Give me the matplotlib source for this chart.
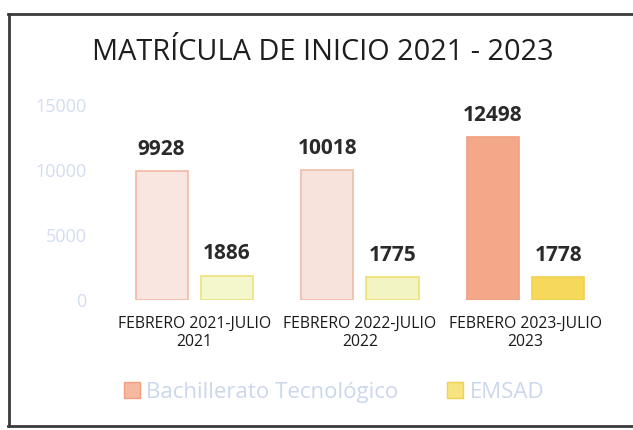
import matplotlib
matplotlib.use("Agg")
import matplotlib.pyplot as plt
from matplotlib.lines import Line2D
from matplotlib.patches import Patch
import numpy as np

categories = ["FEBRERO 2021-JULIO\n2021", "FEBRERO 2022-JULIO\n2022", "FEBRERO 2023-JULIO\n2023"]
bachillerato = [9928, 10018, 12498]
emsad = [1886, 1775, 1778]
series_names = ["Bachillerato Tecnológico", "EMSAD"]
yticks = [0, 5000, 10000, 15000]

bach_face = ["#f9e6e0", "#f8e3dc", "#f3a88a"]
bach_edge = ["#f2b9a4", "#f0bca8", "#f0a080"]
emsad_face = ["#f4f6cc", "#f3f4c4", "#f6d85a"]
emsad_edge = ["#efe27a", "#f0e070", "#f2d050"]

plt.rcParams['font.family'] = ['Open Sans', 'DejaVu Sans']

fig = plt.figure(figsize=(6.33, 4.30), dpi=100)
ax = fig.add_axes([0.176, 0.302, 0.785, 0.454])

x = np.arange(len(categories))
w = 0.315
off = 0.197
b1 = ax.bar(x - off, bachillerato, w, color=bach_face, edgecolor=bach_edge, linewidth=1.2)
b2 = ax.bar(x + off, emsad, w, color=emsad_face, edgecolor=emsad_edge, linewidth=1.2)

for rect, v in list(zip(b1, bachillerato)) + list(zip(b2, emsad)):
    ax.annotate(str(v), (rect.get_x() + rect.get_width() / 2, v),
                xytext=(0, 8), textcoords="offset points",
                ha="center", va="bottom", fontsize=15, fontweight="bold", color="#2a2a2a")

ax.set_xlim(-0.5, 2.5)
ax.set_ylim(0, 15000)
ax.set_yticks(yticks)
ax.set_yticklabels([str(t) for t in yticks], color="#d3ddef", fontsize=13)
ax.set_xticks(x)
ax.set_xticklabels(categories, fontsize=11.3, color="#1a1a1a", linespacing=1.2)
ax.tick_params(axis="both", length=0)
ax.tick_params(axis="y", pad=18)
ax.tick_params(axis="x", pad=11)
for s in ax.spines.values():
    s.set_visible(False)

fig.text(0.51, 0.877, "MATRÍCULA DE INICIO 2021 - 2023", ha="center", va="center",
         fontsize=20.8, color="#1e1e1e")

handles = [Patch(facecolor="#f5b8a0", edgecolor="#f0a080"),
           Patch(facecolor="#f7e480", edgecolor="#f0d050")]
leg = fig.legend(handles, series_names, loc="center", bbox_to_anchor=(0.528, 0.088),
                 ncol=2, frameon=False, fontsize=16, handlelength=0.7, handleheight=0.7,
                 columnspacing=2.2, handletextpad=0.3)
for t in leg.get_texts():
    t.set_color("#cbd7ec")

# scanned frame
fig.add_artist(Line2D([8/633, 633/633], [1 - 14/430, 1 - 14/430], color="#3a3a3a", lw=2))
fig.add_artist(Line2D([9/633, 9/633], [1 - 14/430, 1 - 426/430], color="#3a3a3a", lw=2))
fig.add_artist(Line2D([8/633, 633/633], [1 - 426/430, 1 - 426/430], color="#3a3a3a", lw=2))

fig.savefig("out.png", dpi=100)
